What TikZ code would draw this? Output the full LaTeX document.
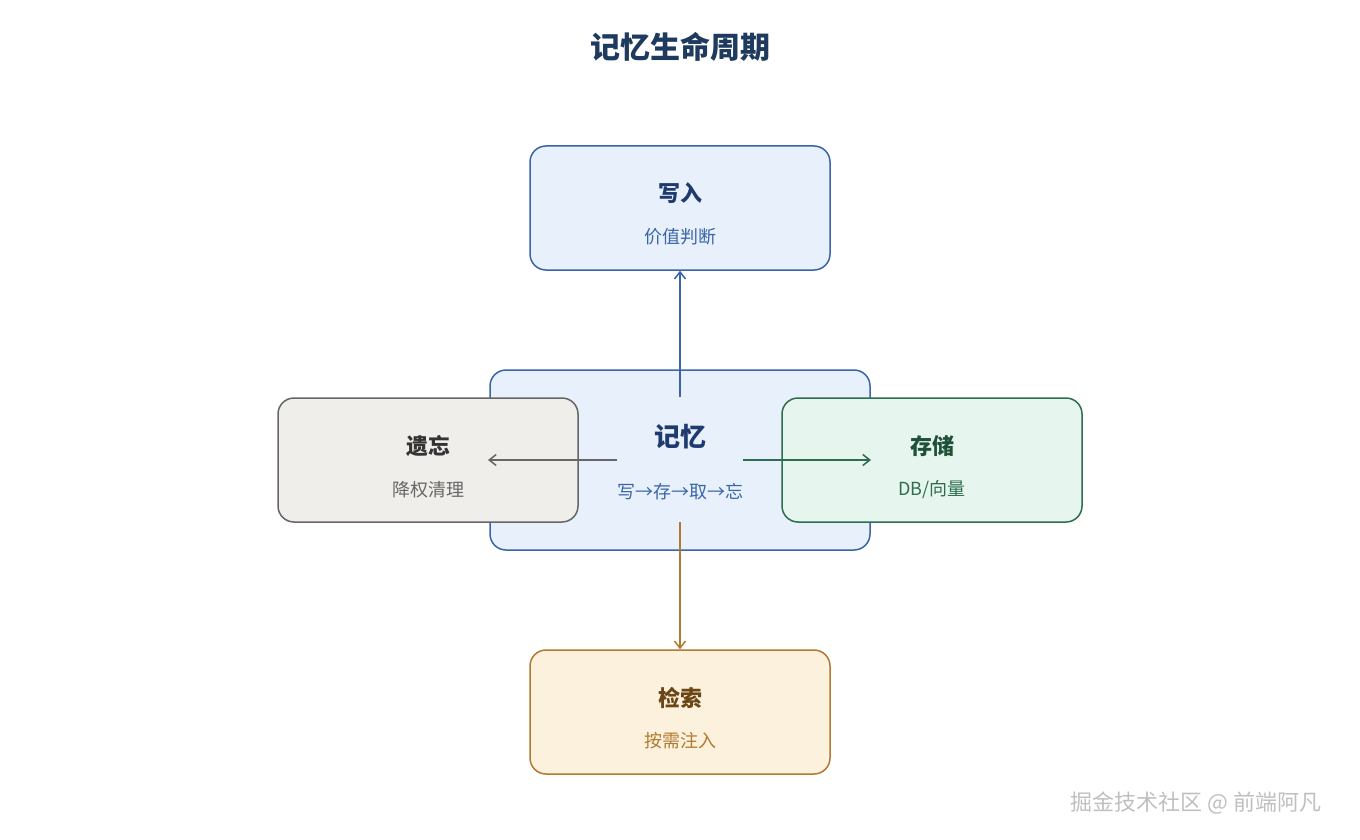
\documentclass[tikz,border=0pt]{standalone}
\usepackage{fontspec}
\setmainfont{Noto Sans CJK SC}
\newfontfamily\cjkb{Noto Sans CJK SC Bold}
\usetikzlibrary{arrows.meta}
\definecolor{navy}{HTML}{1E3A5F}
\definecolor{bfill}{HTML}{E8F1FB}\definecolor{bline}{HTML}{3A65A8}\definecolor{btxt}{HTML}{1E3A6E}
\definecolor{gfill}{HTML}{F0EEEA}\definecolor{gline}{HTML}{666666}\definecolor{gtxt}{HTML}{333333}
\definecolor{efill}{HTML}{E6F5EE}\definecolor{eline}{HTML}{2E6E4E}\definecolor{etxt}{HTML}{1F5038}
\definecolor{ofill}{HTML}{FBF1DC}\definecolor{oline}{HTML}{B07A30}\definecolor{otxt}{HTML}{6B4515}
\begin{document}
\begin{tikzpicture}[x=1pt,y=-1pt,
  box/.style={draw,line width=1.5pt,rounded corners=16pt,minimum width=300pt,minimum height=124pt,inner sep=0pt},
  ttl/.style={font=\fontsize{22}{26}\selectfont\bfseries},
  sub/.style={font=\fontsize{18}{22}\selectfont},
  arr/.style={line width=1.5pt,-{Straight Barb[length=7pt,width=11pt]}}]
\useasboundingbox (0,0) rectangle (1360,840);
\node[font=\fontsize{30}{36}\selectfont\bfseries,text=navy] (title) at (680,47) {记忆生命周期};
\node[box,fill=bfill,draw=bline,minimum width=380pt,minimum height=180pt] (mem) at (680,460) {};
\node[ttl,text=btxt,font=\fontsize{26}{30}\selectfont\bfseries] (memt) at (680,437) {记忆};
\node[sub,text=bline] (mems) at (680,492) {写→存→取→忘};
\node[box,fill=bfill,draw=bline] (w) at (680,208) {};
\node[ttl,text=btxt] at (680,193) {写入};
\node[sub,text=bline] at (680,237) {价值判断};
\node[box,fill=gfill,draw=gline] (f) at (428,460) {};
\node[ttl,text=gtxt] at (428,446) {遗忘};
\node[sub,text=gline] at (428,490) {降权清理};
\node[box,fill=efill,draw=eline] (s) at (932,460) {};
\node[ttl,text=etxt] at (932,446) {存储};
\node[sub,text=eline] at (932,490) {DB/向量};
\node[box,fill=ofill,draw=oline] (r) at (680,712) {};
\node[ttl,text=otxt] at (680,698) {检索};
\node[sub,text=oline] at (680,741) {按需注入};
\coordinate (cu) at (680,397); \coordinate (cl) at (617,460);
\coordinate (cr) at (743,460); \coordinate (cd) at (680,522);
\coordinate (fl) at (488,460); \coordinate (sr) at (871,460);
\draw[arr,bline] (cu) -- (w.south);
\draw[arr,gline] (cl) -- (fl);
\draw[arr,eline] (cr) -- (sr);
\draw[arr,oline] (cd) -- (r.north);
\node[font=\fontsize{22}{26}\selectfont,text=gray!50] at (1196,803) {掘金技术社区 @ 前端阿凡};
\end{tikzpicture}
\end{document}
